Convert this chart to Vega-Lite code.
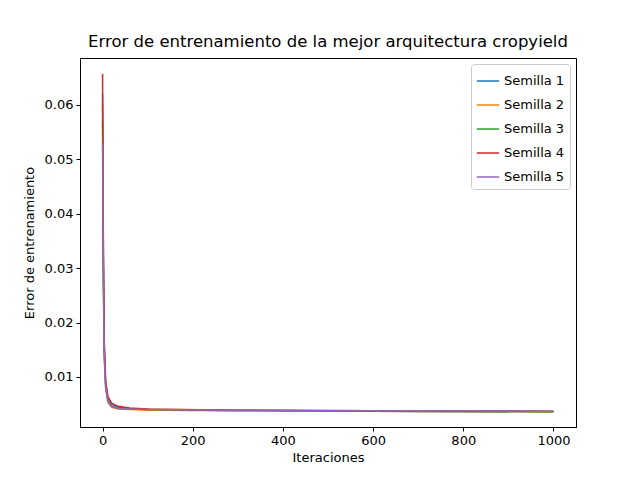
{
  "$schema": "https://vega.github.io/schema/vega-lite/v6.json",
  "autosize": "none",
  "padding": {"left": 80, "top": 58, "right": 64, "bottom": 53},
  "width": 496,
  "height": 369,
  "config": {"font": "DejaVu Sans", "view": {"stroke": "black", "strokeWidth": 1}},
  "title": {"text": "Error de entrenamiento de la mejor arquitectura cropyield", "fontSize": 16.5, "fontWeight": "normal", "color": "black", "offset": 8},
  "data": {"values": [
    {"it": 0, "s": "Semilla 1", "e": 0.0620}, {"it": 2, "s": "Semilla 1", "e": 0.030}, {"it": 4, "s": "Semilla 1", "e": 0.015}, {"it": 7, "s": "Semilla 1", "e": 0.0085}, {"it": 12, "s": "Semilla 1", "e": 0.0060}, {"it": 20, "s": "Semilla 1", "e": 0.0050}, {"it": 35, "s": "Semilla 1", "e": 0.0044}, {"it": 60, "s": "Semilla 1", "e": 0.0042}, {"it": 100, "s": "Semilla 1", "e": 0.0040}, {"it": 300, "s": "Semilla 1", "e": 0.0039}, {"it": 600, "s": "Semilla 1", "e": 0.0037}, {"it": 1000, "s": "Semilla 1", "e": 0.0036},
    {"it": 0, "s": "Semilla 2", "e": 0.0600}, {"it": 2, "s": "Semilla 2", "e": 0.028}, {"it": 4, "s": "Semilla 2", "e": 0.014}, {"it": 7, "s": "Semilla 2", "e": 0.0080}, {"it": 12, "s": "Semilla 2", "e": 0.0053}, {"it": 20, "s": "Semilla 2", "e": 0.0044}, {"it": 35, "s": "Semilla 2", "e": 0.0041}, {"it": 60, "s": "Semilla 2", "e": 0.0040}, {"it": 100, "s": "Semilla 2", "e": 0.0039}, {"it": 300, "s": "Semilla 2", "e": 0.0038}, {"it": 600, "s": "Semilla 2", "e": 0.0037}, {"it": 1000, "s": "Semilla 2", "e": 0.0036},
    {"it": 0, "s": "Semilla 3", "e": 0.0570}, {"it": 2, "s": "Semilla 3", "e": 0.027}, {"it": 4, "s": "Semilla 3", "e": 0.014}, {"it": 7, "s": "Semilla 3", "e": 0.0082}, {"it": 12, "s": "Semilla 3", "e": 0.0056}, {"it": 20, "s": "Semilla 3", "e": 0.0046}, {"it": 35, "s": "Semilla 3", "e": 0.0042}, {"it": 60, "s": "Semilla 3", "e": 0.0041}, {"it": 100, "s": "Semilla 3", "e": 0.0040}, {"it": 300, "s": "Semilla 3", "e": 0.0038}, {"it": 600, "s": "Semilla 3", "e": 0.0037}, {"it": 1000, "s": "Semilla 3", "e": 0.0036},
    {"it": 0, "s": "Semilla 4", "e": 0.0657}, {"it": 2, "s": "Semilla 4", "e": 0.032}, {"it": 4, "s": "Semilla 4", "e": 0.016}, {"it": 7, "s": "Semilla 4", "e": 0.0092}, {"it": 12, "s": "Semilla 4", "e": 0.0064}, {"it": 20, "s": "Semilla 4", "e": 0.0052}, {"it": 35, "s": "Semilla 4", "e": 0.0046}, {"it": 60, "s": "Semilla 4", "e": 0.0043}, {"it": 100, "s": "Semilla 4", "e": 0.0041}, {"it": 300, "s": "Semilla 4", "e": 0.0039}, {"it": 600, "s": "Semilla 4", "e": 0.0038}, {"it": 1000, "s": "Semilla 4", "e": 0.0037},
    {"it": 0, "s": "Semilla 5", "e": 0.0530}, {"it": 2, "s": "Semilla 5", "e": 0.026}, {"it": 4, "s": "Semilla 5", "e": 0.013}, {"it": 7, "s": "Semilla 5", "e": 0.0080}, {"it": 12, "s": "Semilla 5", "e": 0.0055}, {"it": 20, "s": "Semilla 5", "e": 0.0046}, {"it": 35, "s": "Semilla 5", "e": 0.0042}, {"it": 60, "s": "Semilla 5", "e": 0.0041}, {"it": 100, "s": "Semilla 5", "e": 0.0040}, {"it": 300, "s": "Semilla 5", "e": 0.0039}, {"it": 600, "s": "Semilla 5", "e": 0.0038}, {"it": 1000, "s": "Semilla 5", "e": 0.0037}
  ]},
  "mark": {"type": "line", "strokeWidth": 1.5, "clip": true},
  "encoding": {
    "x": {"field": "it", "type": "quantitative", "scale": {"domain": [-50, 1050], "nice": false},
      "axis": {"title": "Iteraciones", "values": [0, 200, 400, 600, 800, 1000], "format": "d", "grid": false, "tickColor": "black", "domainColor": "black", "labelColor": "black", "labelFontSize": 13, "titleFontSize": 13, "titleFontWeight": "normal", "titleColor": "black", "tickSize": 4, "labelPadding": 3, "titlePadding": 4}},
    "y": {"field": "e", "type": "quantitative", "scale": {"domain": [0.0008, 0.0686], "nice": false, "zero": false},
      "axis": {"title": "Error de entrenamiento", "values": [0.01, 0.02, 0.03, 0.04, 0.05, 0.06], "format": ".2f", "grid": false, "tickColor": "black", "domainColor": "black", "labelColor": "black", "labelFontSize": 13, "titleFontSize": 13, "titleFontWeight": "normal", "titleColor": "black", "tickSize": 4, "labelPadding": 3, "titlePadding": 8}},
    "color": {"field": "s", "type": "nominal",
      "scale": {"range": ["#1f77b4", "#ff7f0e", "#2ca02c", "#d62728", "#9467bd"]},
      "legend": {"title": null, "orient": "top-right", "offset": 6, "labelFontSize": 13, "labelColor": "black", "symbolType": "stroke", "symbolSize": 500, "symbolStrokeWidth": 1.5, "rowPadding": 5, "padding": 5, "strokeColor": "#cccccc", "fillColor": "white", "cornerRadius": 3}}
  }
}
